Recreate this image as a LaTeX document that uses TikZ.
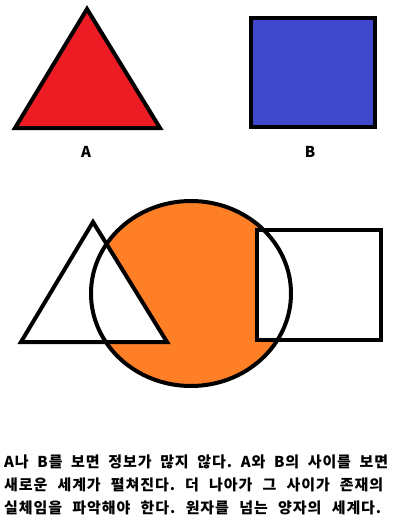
\documentclass[tikz,border=0pt]{standalone}
\usepackage{fontspec}
\setmainfont{Noto Sans CJK KR}
\definecolor{paintred}{HTML}{ED1C24}
\definecolor{paintblue}{HTML}{3F48CC}
\definecolor{paintorange}{HTML}{FF7F27}
\tikzset{
  outline/.style={draw=black, line width=4pt, line join=miter},
  label text/.style={font=\fontsize{15}{18}\selectfont\bfseries},
  caption line/.style={anchor=west, inner sep=0pt,
    font=\fontsize{15}{18}\selectfont\bfseries\frenchspacing\addfontfeature{LetterSpace=6}}
}
\begin{document}
\begin{tikzpicture}[x=1pt, y=-1pt]
    \useasboundingbox (0, 0) rectangle (407, 531);

    % 위: 삼각형 A 와 사각형 B
    \draw[outline, fill=paintred] (87, 9) -- (160, 128) -- (15, 128) -- cycle;
    \node[label text] (labA) at (86, 152) {A};
    \draw[outline, fill=paintblue] (251, 18) rectangle (375, 127);
    \node[label text] (labB) at (310, 152) {B};

    % 아래: 원 (사이)
    \fill[paintorange] (191, 293.5) ellipse (100 and 92.5);
    \fill[white] (93, 222) -- (167, 342) -- (21, 342) -- cycle;
    \fill[white] (257, 230) rectangle (381, 340);
    \draw[outline] (191, 293.5) ellipse (100 and 92.5);
    \draw[outline] (93, 222) -- (167, 342) -- (21, 342) -- cycle;
    \draw[outline] (257, 230) rectangle (381, 340);

    % 설명 글
    \node[caption line] (line1) at (4, 462) {\makebox[384pt][s]{A나 B를 보면 정보가 많지 않다. A와 B의 사이를 보면}};
    \node[caption line] (line2) at (4, 485) {\makebox[379pt][s]{새로운 세계가 펼쳐진다. 더 나아가 그 사이가 존재의}};
    \node[caption line] (line3) at (4, 508) {\makebox[377pt][s]{실체임을 파악해야 한다. 원자를 넘는 양자의 세계다.}};
\end{tikzpicture}
\end{document}
